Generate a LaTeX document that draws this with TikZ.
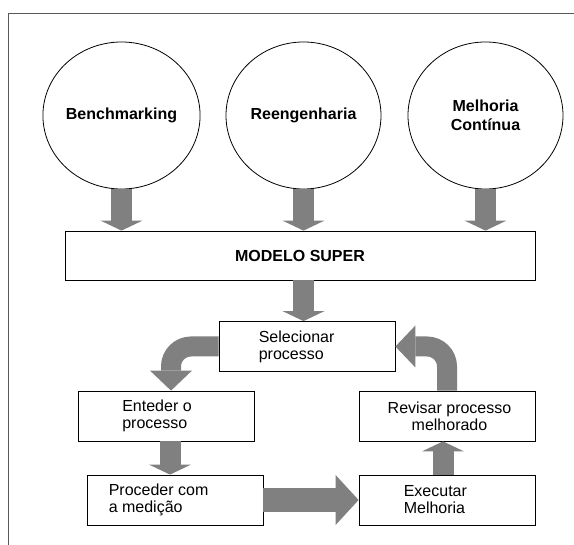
\documentclass[tikz,border=0pt]{standalone}
\usepackage{fontspec}
\setmainfont{Liberation Sans}
\usetikzlibrary{shapes.geometric,arrows.meta}
\definecolor{arrowgray}{HTML}{808080}
\begin{document}
\begin{tikzpicture}[x=1pt,y=-1pt,
  font=\fontsize{16}{17}\selectfont,
  circ/.style={draw,line width=0.8pt,ellipse,minimum width=155pt,minimum height=147pt,inner sep=0pt,
    font=\fontsize{16}{19}\selectfont\bfseries,align=center},
  box/.style={draw,line width=0.8pt,minimum width=176pt,minimum height=50pt,inner sep=0pt},
  lbl/.style={align=left,inner sep=0pt,anchor=west},
  clbl/.style={align=center,inner sep=0pt},
  fat/.style={draw=arrowgray,line width=21pt,-{Triangle[width=42pt,length=10pt,line width=0pt]}},
  fatcurve/.style={draw=arrowgray,line width=20pt,rounded corners=20pt,-{Triangle[width=42pt,length=20pt,line width=0pt]}},
  fatwide/.style={draw=arrowgray,line width=24pt,-{Triangle[width=50pt,length=23pt,line width=0pt]}},
  framestyle/.style={draw=black!65,line width=0.8pt}]
\useasboundingbox (0,0) rectangle (574,545);
\coordinate (fbl) at (8,545);
\coordinate (ftl) at (8,13);
\coordinate (ftr) at (574,13);
\draw[framestyle] (fbl) -- (ftl) -- (ftr);

% circles
\node[circ] (c1) at (121.5,115.5) {Benchmarking};
\node[circ] (c2) at (303.5,115.5) {Reengenharia};
\node[circ] (c3) at (485.5,115.5) {Melhoria\\Contínua};

% modelo
\node[draw,line width=0.8pt,minimum width=470pt,minimum height=49pt,inner sep=0pt,font=\fontsize{16}{19}\selectfont\bfseries]
  (modelo) at (300,255.5) {MODELO SUPER};

% boxes
\node[box] (sel) at (307,346.5) {};
\node[box] (ent) at (166.5,416) {};
\node[box] (rev) at (447,416) {};
\node[box] (pro) at (175,500) {};
\node[box] (exe) at (447,500) {};

\node[lbl] (tsel) at ([xshift=40pt]sel.west) {Selecionar\\processo};
\node[lbl] (tent) at ([xshift=44pt]ent.west) {Enteder o\\processo};
\node[clbl] (trev) at ([xshift=2.5pt]rev.center) {Revisar processo\\melhorado};
\node[lbl] (tpro) at ([xshift=22pt]pro.west) {Proceder com\\a medição};
\node[lbl] (texe) at ([xshift=45pt]exe.west) {Executar\\Melhoria};

% arrows circles -> modelo
\draw[fat] (c1.south) -- (c1.south |- modelo.north);
\draw[fat] (c2.south) -- (c2.south |- modelo.north);
\draw[fat] (c3.south) -- (c3.south |- modelo.north);
% modelo -> sel
\draw[fat] (c2.south |- modelo.south) -- (c2.south |- sel.north);
% sel -> ent (curved)
\draw[fatcurve] (sel.west) -| ([xshift=4.5pt]ent.north);
% ent -> pro
\draw[fat] ([xshift=3.5pt]ent.south) -- ([xshift=3.5pt]ent.south |- pro.north);
% pro -> exe
\draw[fatwide] (pro.east) -- (exe.west);
% exe -> rev
\draw[fat] ([xshift=-4pt]exe.north) -- ([xshift=-4pt]exe.north |- rev.south);
% rev -> sel (curved)
\draw[fatcurve] (rev.north) |- (sel.east);
\end{tikzpicture}
\end{document}
